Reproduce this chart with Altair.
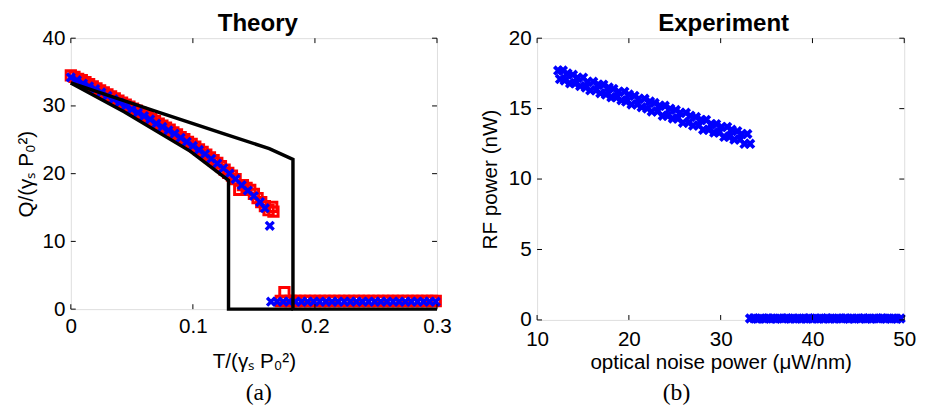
import altair as alt
import pandas as pd

FONT = "Liberation Sans"

# ---------------- Theory panel data ----------------
blue_x = [0.000, 0.005, 0.010, 0.015, 0.020, 0.025, 0.030, 0.035, 0.040, 0.045,
          0.050, 0.055, 0.060, 0.065, 0.070, 0.075, 0.080, 0.085, 0.090, 0.095,
          0.100, 0.105, 0.110, 0.115, 0.120, 0.125, 0.130, 0.135, 0.140, 0.145,
          0.150, 0.155, 0.159, 0.163,
          0.164, 0.169, 0.174, 0.179, 0.184, 0.189, 0.194, 0.199, 0.204, 0.209,
          0.214, 0.219, 0.224, 0.229, 0.234, 0.239, 0.244, 0.249, 0.254, 0.259,
          0.264, 0.269, 0.274, 0.279, 0.284, 0.289, 0.294, 0.299]
blue_y = [34.2, 33.8, 33.3, 32.9, 32.5, 32.0, 31.5, 31.0, 30.5, 30.0,
          29.5, 29.0, 28.5, 28.0, 27.4, 26.9, 26.4, 25.9, 25.3, 24.7,
          24.1, 23.5, 22.9, 22.2, 21.5, 20.8, 20.0, 19.2, 18.3, 17.5,
          16.7, 15.8, 14.9, 12.3,
          1.1, 1.1, 1.1, 1.1, 1.1, 1.1, 1.1, 1.1, 1.1, 1.1,
          1.1, 1.1, 1.1, 1.1, 1.1, 1.1, 1.1, 1.1, 1.1, 1.1,
          1.1, 1.1, 1.1, 1.1, 1.1, 1.1, 1.1, 1.1]

red_x = [0.000, 0.003, 0.006, 0.009, 0.012, 0.015, 0.018, 0.021, 0.024, 0.027,
         0.030, 0.033, 0.036, 0.039, 0.042, 0.045, 0.048, 0.051, 0.054, 0.057,
         0.060, 0.063, 0.066, 0.069, 0.072, 0.075, 0.078, 0.081, 0.084, 0.087,
         0.090, 0.093, 0.096, 0.099, 0.102, 0.105, 0.108, 0.111, 0.114, 0.117,
         0.120, 0.123, 0.126, 0.129, 0.132, 0.135, 0.138, 0.141, 0.144, 0.147,
         0.150, 0.153, 0.156, 0.159, 0.162, 0.165, 0.166,
         0.172, 0.175, 0.176, 0.180, 0.184, 0.188, 0.192, 0.196, 0.200, 0.204,
         0.208, 0.212, 0.216, 0.220, 0.224, 0.228, 0.232, 0.236, 0.240, 0.244,
         0.248, 0.252, 0.256, 0.260, 0.264, 0.268, 0.272, 0.276, 0.280, 0.284,
         0.288, 0.292, 0.296, 0.299]
red_y = [34.5, 34.3, 34.0, 33.8, 33.5, 33.2, 32.9, 32.6, 32.3, 32.0,
         31.7, 31.4, 31.1, 30.8, 30.5, 30.2, 29.9, 29.6, 29.3, 29.0,
         28.7, 28.4, 28.1, 27.8, 27.4, 27.1, 26.8, 26.5, 26.1, 25.8,
         25.4, 25.1, 24.7, 24.4, 24.0, 23.6, 23.2, 22.8, 22.4, 22.0,
         21.6, 21.1, 20.6, 20.1, 19.7, 19.2, 17.6, 18.3, 17.9, 17.6,
         17.0, 16.4, 15.8, 15.2, 14.6, 15.1, 14.4,
         1.2, 2.5, 1.2, 1.2, 1.2, 1.2, 1.2, 1.2, 1.2, 1.2,
         1.2, 1.2, 1.2, 1.2, 1.2, 1.2, 1.2, 1.2, 1.2, 1.2,
         1.2, 1.2, 1.2, 1.2, 1.2, 1.2, 1.2, 1.2, 1.2, 1.2,
         1.2, 1.2, 1.2, 1.2]

upper_x = [0.0, 0.0716, 0.125, 0.1626, 0.182, 0.182, 0.3]
upper_y = [33.4, 29.1, 25.9, 23.7, 22.1, 0.0, 0.0]
lower_x = [0.0, 0.044, 0.098, 0.1292, 0.1292, 0.182]
lower_y = [33.4, 29.1, 23.3, 19.0, 0.0, 0.0]

theory_xticks = [0, 0.1, 0.2, 0.3]
theory_yticks = [0, 10, 20, 30, 40]

# ---------------- Experiment panel data ----------------
exp_hi_x = [12.3, 12.5, 12.8, 13.0, 13.3, 13.6, 13.9, 14.1, 14.4, 14.7,
            15.0, 15.3, 15.5, 15.8, 16.1, 16.4, 16.7, 16.9, 17.2, 17.5,
            17.8, 18.1, 18.3, 18.6, 18.9, 19.2, 19.5, 19.7, 20.0, 20.3,
            20.6, 20.9, 21.1, 21.4, 21.7, 22.0, 22.3, 22.5, 22.8, 23.1,
            23.4, 23.7, 23.9, 24.2, 24.5, 24.8, 25.1, 25.3, 25.6, 25.9,
            26.2, 26.5, 26.7, 27.0, 27.3, 27.6, 27.9, 28.1, 28.4, 28.7,
            29.0, 29.3, 29.5, 29.8, 30.1, 30.4, 30.7, 30.9, 31.2, 31.5,
            31.8, 32.1, 32.3, 32.6, 32.9, 33.2]
exp_hi_y = [17.7, 17.1, 17.7, 17.0, 17.5, 16.8, 17.4, 16.8, 17.2, 16.6,
            17.2, 16.5, 16.9, 16.3, 16.9, 16.3, 16.7, 16.1, 16.7, 16.0,
            16.5, 15.8, 16.4, 15.8, 16.2, 15.6, 16.2, 15.5, 16.0, 15.3,
            15.9, 15.3, 15.7, 15.1, 15.7, 15.0, 15.5, 14.8, 15.4, 14.8,
            15.2, 14.5, 15.2, 14.5, 15.0, 14.3, 14.9, 14.3, 14.7, 14.0,
            14.7, 14.0, 14.5, 13.8, 14.4, 13.8, 14.2, 13.5, 14.2, 13.5,
            13.9, 13.3, 13.9, 13.3, 13.7, 13.0, 13.7, 13.0, 13.5, 12.8,
            13.4, 12.8, 13.2, 12.5, 13.2, 12.5]
exp_lo_x = [33.2, 33.6, 34.0, 34.4, 34.8, 35.2, 35.6, 36.0, 36.4, 36.8,
            37.2, 37.6, 38.0, 38.4, 38.8, 39.2, 39.6, 40.0, 40.4, 40.8,
            41.2, 41.6, 42.0, 42.4, 42.8, 43.2, 43.6, 44.0, 44.4, 44.8,
            45.2, 45.6, 46.0, 46.4, 46.8, 47.2, 47.6, 48.0, 48.4, 48.8,
            49.2, 49.6]
exp_lo_y = [0.10, 0.12, 0.08, 0.11, 0.09, 0.12, 0.10, 0.08, 0.11, 0.10,
            0.12, 0.09, 0.10, 0.11, 0.08, 0.10, 0.12, 0.09, 0.11, 0.10,
            0.08, 0.12, 0.10, 0.09, 0.11, 0.10, 0.12, 0.08, 0.10, 0.11,
            0.09, 0.12, 0.10, 0.08, 0.11, 0.10, 0.12, 0.09, 0.10, 0.11,
            0.08, 0.10]

exp_xticks = [10, 20, 30, 40, 50]
exp_yticks = [0, 5, 10, 15, 20]

panel_titles = ["Theory", "Experiment"]
panel_labels = ["(a)", "(b)"]

# ---------------- tables ----------------
df_blue = pd.DataFrame({"x": blue_x, "y": blue_y})
df_red = pd.DataFrame({"x": red_x, "y": red_y})
df_lines = pd.DataFrame({
    "x": upper_x + lower_x,
    "y": upper_y + lower_y,
    "branch": ["upper"] * len(upper_x) + ["lower"] * len(lower_x),
    "ord": list(range(len(upper_x))) + list(range(len(lower_x))),
})
df_exp = pd.DataFrame({"x": exp_hi_x + exp_lo_x, "y": exp_hi_y + exp_lo_y})

X_SHAPE = "M-1,-1L1,1M-1,1L1,-1"
W1, H1 = 373, 276
W2, H2 = 374, 287
LBL = 21
TTL = 21


def axis(values, title, fmt, pad_label, pad_title):
    return alt.Axis(values=values, title=title, format=fmt, grid=False, ticks=False,
                    domain=False, labelFont=FONT, labelFontSize=LBL, labelColor="black",
                    labelPadding=pad_label, titleFont=FONT, titleFontSize=TTL,
                    titleFontWeight="normal", titleColor="black", titlePadding=pad_title,
                    labelFlush=False, labelOverlap=False)


def text_layer(s, x, y, **kw):
    return alt.Chart(pd.DataFrame({"t": [s]})).mark_text(
        color="black", align="center", baseline="middle", **kw).encode(
        text="t:N", x=alt.value(x), y=alt.value(y))


def panel(marks, x_dom, y_dom, xv, yv, xt, yt, xfmt, W, H, pads,
          title, tx, ty, label, lx, ly):
    xs = alt.Scale(domain=x_dom, nice=False, zero=False)
    ys = alt.Scale(domain=y_dom, nice=False, zero=False)
    xenc = alt.X("x:Q", scale=xs, axis=axis(xv, xt, xfmt, pads[0], pads[1]))
    yenc = alt.Y("y:Q", scale=ys, axis=axis(yv, yt, "d", pads[2], pads[3]))
    layers = [m.encode(x=xenc, y=yenc) for m in marks]
    dxt = pd.DataFrame({"x": xv})
    dyt = pd.DataFrame({"y": yv})
    tick = dict(color="black", strokeWidth=1)
    layers += [
        alt.Chart(dxt).mark_rule(**tick).encode(x=xenc, y=alt.value(0), y2=alt.value(5)),
        alt.Chart(dxt).mark_rule(**tick).encode(x=xenc, y=alt.value(H - 5), y2=alt.value(H)),
        alt.Chart(dyt).mark_rule(**tick).encode(y=yenc, x=alt.value(0), x2=alt.value(5)),
        alt.Chart(dyt).mark_rule(**tick).encode(y=yenc, x=alt.value(W - 5), x2=alt.value(W)),
        text_layer(title, tx, ty, font=FONT, fontSize=24.5, fontWeight="bold"),
        text_layer(label, lx, ly, font="Liberation Serif", fontSize=24),
    ]
    return alt.layer(*layers).properties(width=W, height=H)


# Theory panel
red_pts = alt.Chart(df_red).mark_point(shape="square", filled=False, stroke="#ff0000",
                                         strokeWidth=3, size=90, opacity=1)
blue_pts = alt.Chart(df_blue).mark_point(shape=X_SHAPE, filled=False, stroke="#0000ff",
                                           strokeWidth=3.4, size=64, opacity=1)
lines = alt.Chart(df_lines).mark_line(color="black", strokeWidth=3.5).encode(
    detail="branch:N", order="ord:Q")

theory = panel([red_pts, blue_pts, lines], [0, 0.3], [0, 40], theory_xticks, theory_yticks,
               "T/(γₛ P₀²)", "Q/(γₛ P₀²)", ".1~f", W1, H1, (7, 14, 6, 6),
               panel_titles[0], W1 / 2 + 4, -14, panel_labels[0], W1 / 2 + 5, H1 + 86)

# Experiment panel
exp_pts = alt.Chart(df_exp).mark_point(shape=X_SHAPE, filled=False, stroke="#0000ff",
                                         strokeWidth=3.8, size=64, opacity=1)
experiment = panel([exp_pts], [10, 50], [0, 20], exp_xticks, exp_yticks,
                   "optical noise power (μW/nm)", "RF power (nW)", "d", W2, H2, (9, 3, 6, 8),
                   panel_titles[1], W2 / 2 + 3, -14, panel_labels[1], 142, H2 + 75)

chart = alt.hconcat(theory, experiment, spacing=27).properties(
    padding={"left": 7, "top": -1, "right": 0, "bottom": 0}
).configure_view(stroke="black", strokeWidth=1.5).configure(background="white")

chart.save("out.html", embed_options={"renderer": "svg", "actions": False})
